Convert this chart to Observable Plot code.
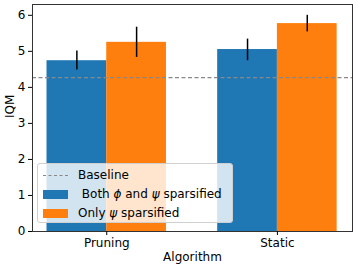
<!DOCTYPE html>
<html><head><meta charset="utf-8">
<script src="https://cdn.jsdelivr.net/npm/d3@7"></script>
<script src="https://cdn.jsdelivr.net/npm/@observablehq/plot@0.6"></script>
<style>
body{margin:0;background:#fff;font-family:"DejaVu Sans",sans-serif;}
#wrap{position:relative;width:357px;height:267px;}
#legend{position:absolute;left:37px;top:163px;width:196px;height:60px;background:rgba(255,255,255,0.8);border:1px solid #d0d0d0;border-radius:3px;font-size:12px;color:#000;box-sizing:border-box;}
.row{position:absolute;left:5px;display:flex;align-items:center;height:16px;white-space:pre;}
.sw{width:25px;height:9px;margin-right:10px;}
.ln{width:25px;height:0;border-top:1.2px dashed #888;margin-right:10px;}
</style></head>
<body><div id="wrap"></div>
<script>
const categories = ["Pruning", "Static"];
const series = ["Both ϕ and ψ sparsified", "Only ψ sparsified"];
const seriesColors = ["#1f77b4", "#ff7f0e"];
const bothVals = [4.74, 5.05];
const bothLo = [4.48, 4.74];
const bothHi = [5.01, 5.34];
const onlyVals = [5.25, 5.77];
const onlyLo = [4.83, 5.54];
const onlyHi = [5.67, 6.00];
const baseline = 4.27;
const yTicks = [0, 1, 2, 3, 4, 5, 6];

const barW = 0.35;
const rows = [];
categories.forEach((c, i) => {
  rows.push({cat: c, s: 0, x1: i - barW, x2: i, v: bothVals[i], lo: bothLo[i], hi: bothHi[i]});
  rows.push({cat: c, s: 1, x1: i, x2: i + barW, v: onlyVals[i], lo: onlyLo[i], hi: onlyHi[i]});
});
rows.forEach(r => r.xm = (r.x1 + r.x2) / 2);

const chart = Plot.plot({
  width: 357, height: 267,
  marginLeft: 32, marginRight: 5, marginTop: 4, marginBottom: 36,
  style: {fontFamily: "DejaVu Sans, sans-serif", fontSize: "12px", color: "#000", background: "#fff"},
  x: {type: "linear", domain: [-0.435, 1.44]},
  y: {domain: [0, 6.3]},
  marks: [
    Plot.rectY(rows, {x1: "x1", x2: "x2", y1: 0, y2: "v", fill: d => seriesColors[d.s]}),
    Plot.ruleX(rows, {x: "xm", y1: "lo", y2: "hi", stroke: "#000", strokeWidth: 1.5}),
    Plot.ruleY([baseline], {stroke: "#888", strokeDasharray: "4,2.5", strokeWidth: 1.2}),
    Plot.frame({stroke: "#333", strokeWidth: 1}),
    Plot.axisY({ticks: yTicks, tickFormat: d => String(d), tickSize: 4, tickPadding: 3, label: null, fontSize: 12}),
    Plot.text(["IQM"], {frameAnchor: "left", rotate: -90, dx: -22, fontSize: 12, fill: "#000"}),
    Plot.axisX({ticks: categories.map((c, i) => i), tickFormat: i => categories[i], tickSize: 4, tickPadding: 3, label: "Algorithm", labelAnchor: "center", labelArrow: "none", labelOffset: 29, fontSize: 12})
  ]
});
const wrap = document.getElementById("wrap");
wrap.appendChild(chart);

function withItalicGreek(el, s) {
  const parts = s.split(/([ϕψ])/);
  for (const p of parts) {
    if (!p) continue;
    if (p === "ϕ" || p === "ψ") {
      const i = document.createElement("i");
      i.textContent = p;
      el.appendChild(i);
    } else {
      const sp = document.createElement("span");
      sp.textContent = p;
      el.appendChild(sp);
    }
  }
}

const leg = document.createElement("div");
leg.id = "legend";
const items = [{type: "line", label: "Baseline"}].concat(series.map((s, i) => ({type: "patch", color: seriesColors[i], label: (i === 0 ? " " : "") + s})));
items.forEach((it, k) => {
  const r = document.createElement("div");
  r.className = "row";
  r.style.top = (3 + k * 19) + "px";
  const sw = document.createElement("div");
  if (it.type === "line") { sw.className = "ln"; } else { sw.className = "sw"; sw.style.background = it.color; }
  r.appendChild(sw);
  const t = document.createElement("span");
  withItalicGreek(t, it.label);
  r.appendChild(t);
  leg.appendChild(r);
});
wrap.appendChild(leg);
</script></body></html>
